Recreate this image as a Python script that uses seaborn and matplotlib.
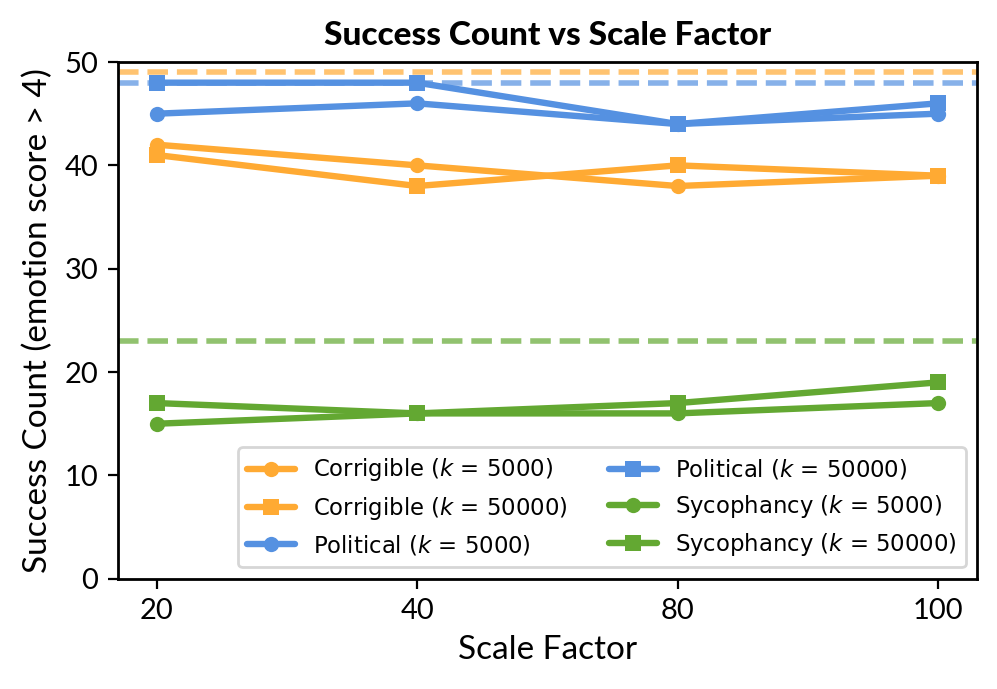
import matplotlib
matplotlib.use("Agg")
import matplotlib.pyplot as plt
import seaborn as sns
import pandas as pd

scale_factors = ["20", "40", "80", "100"]
corrigible_5k = [42, 40, 38, 39]
corrigible_50k = [41, 38, 40, 39]
political_5k = [45, 46, 44, 45]
political_50k = [48, 48, 44, 46]
sycophancy_5k = [15, 16, 16, 17]
sycophancy_50k = [17, 16, 17, 19]
baselines = {"Corrigible": 49, "Political": 48, "Sycophancy": 23}

colors = {"Corrigible": "#FFAA33", "Political": "#5591E1", "Sycophancy": "#63A832"}

sns.set_style("ticks")
plt.rcParams["font.family"] = ["Lato", "DejaVu Sans"]
plt.rcParams["text.color"] = "black"
plt.rcParams["axes.labelcolor"] = "black"
plt.rcParams["xtick.color"] = "black"
plt.rcParams["ytick.color"] = "black"

fig, ax = plt.subplots(figsize=(4.985, 3.445), dpi=200)

series = [
    ("Corrigible", "5000", "o", corrigible_5k),
    ("Corrigible", "50000", "s", corrigible_50k),
    ("Political", "5000", "o", political_5k),
    ("Political", "50000", "s", political_50k),
    ("Sycophancy", "5000", "o", sycophancy_5k),
    ("Sycophancy", "50000", "s", sycophancy_50k),
]

for name, k, m, vals in series:
    df = pd.DataFrame({"x": scale_factors, "y": vals})
    sns.lineplot(data=df, x="x", y="y", ax=ax, color=colors[name], marker=m,
                 markersize=5.5, markeredgewidth=0, linewidth=2.3,
                 label=f"{name} ($k$ = {k})")

for name, val in baselines.items():
    ax.axhline(val, color=colors[name], linestyle="--", linewidth=2, alpha=0.7)

ax.set_ylim(0, 50)
ax.set_yticks([0, 10, 20, 30, 40, 50])
ax.set_xlabel("Scale Factor", fontsize=12)
ax.set_ylabel("Success Count (emotion score > 4)", fontsize=12)
ax.set_title("Success Count vs Scale Factor", fontsize=12, fontweight="black")
ax.tick_params(labelsize=10.5, colors="black")
for s in ax.spines.values():
    s.set_linewidth(1.0)
    s.set_color("black")

ax.legend(loc="lower right", ncol=2,
          prop={"family": "DejaVu Sans", "size": 8.2},
          frameon=True, handlelength=2.1, labelspacing=0.5, columnspacing=1.8)

fig.subplots_adjust(left=0.118, right=0.98, top=0.91, bottom=0.16)
fig.savefig("out.png", dpi=200)
